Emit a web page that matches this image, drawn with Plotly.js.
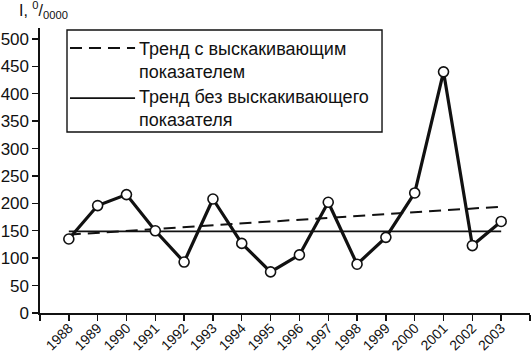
<!DOCTYPE html>
<html><head><meta charset="utf-8">
<script src="https://cdn.plot.ly/plotly-3.0.1.min.js"></script>
<style>html,body{margin:0;padding:0;background:#fff}#c{width:531px;height:354px}</style>
</head><body><div id="c"></div>
<script>
const years = [1988,1989,1990,1991,1992,1993,1994,1995,1996,1997,1998,1999,2000,2001,2002,2003];
const values = [135,196,216,150,93,208,127,75,106,202,89,138,219,440,123,167];
const trendYears = [1988,2003];
const trendWithOutlier = [143,194];
const trendWithoutOutlier = [149,149];
const tickYears = [1987,1988,1989,1990,1991,1992,1993,1994,1995,1996,1997,1998,1999,2000,2001,2002,2003,2004];
const tickLabels = ['', '1988','1989','1990','1991','1992','1993','1994','1995','1996','1997','1998','1999','2000','2001','2002','2003',''];
const legendNames = ['Тренд с выскакивающим<br>показателем','Тренд без выскакивающего<br>показателя'];
const yLabel = 'I, <sup>0</sup>/<sub>0000</sub>';

const F = 'Liberation Sans, Arial, Helvetica, sans-serif';
const traces = [
  {x: trendYears, y: trendWithOutlier, mode:'lines', line:{color:'#111', width:2, dash:'12px,7px'}, hoverinfo:'skip'},
  {x: trendYears, y: trendWithoutOutlier, mode:'lines', line:{color:'#111', width:1.6}, hoverinfo:'skip'},
  {x: years, y: values, mode:'lines+markers', line:{color:'#111', width:3.2},
   marker:{symbol:'circle', size:10, color:'#fff', line:{color:'#111', width:1.6}}}
];
const layout = {
  width:531, height:354, showlegend:false,
  margin:{l:40, r:1, t:28, b:41},
  paper_bgcolor:'#fff', plot_bgcolor:'#fff',
  font:{family:F, color:'#111', size:16},
  xaxis:{range:[1987,2004], tickvals:tickYears, ticktext:tickLabels, tickangle:-45,
    showgrid:false, zeroline:false, showline:true, linecolor:'#111', linewidth:1.6,
    ticks:'outside', ticklen:6, tickwidth:1.4, tickcolor:'#111', ticklabelstandoff:-6,
    tickfont:{size:14, family:F}},
  yaxis:{range:[0,520], tickvals:[0,50,100,150,200,250,300,350,400,450,500],
    showgrid:false, zeroline:false, showline:true, linecolor:'#111', linewidth:1.6,
    ticks:'outside', ticklen:6, tickwidth:1.4, tickcolor:'#111', tickfont:{size:17, family:F}},
  shapes:[
    {type:'rect', xref:'paper', yref:'paper', x0:0.0551, x1:0.698, y0:0.635, y1:0.993, line:{color:'#111', width:1.4}, fillcolor:'rgba(0,0,0,0)'},
    {type:'line', xref:'paper', yref:'paper', x0:0.0612, x1:0.194, y0:0.930, y1:0.930, line:{color:'#111', width:2, dash:'12px,7px'}},
    {type:'line', xref:'paper', yref:'paper', x0:0.0612, x1:0.194, y0:0.754, y1:0.754, line:{color:'#111', width:1.6}}
  ],
  annotations:[
    {xref:'paper', yref:'paper', x:0.198, y:0.886, xanchor:'left', yanchor:'middle', align:'left', showarrow:false, text:legendNames[0], font:{size:18, family:F}},
    {xref:'paper', yref:'paper', x:0.198, y:0.716, xanchor:'left', yanchor:'middle', align:'left', showarrow:false, text:legendNames[1], font:{size:18, family:F}},
    {xref:'paper', yref:'paper', x:-0.047, y:1.063, xanchor:'left', yanchor:'middle', showarrow:false, text:yLabel, font:{size:16, family:F}}
  ]
};
Plotly.newPlot('c', traces, layout, {displayModeBar:false, staticPlot:true});
</script></body></html>
